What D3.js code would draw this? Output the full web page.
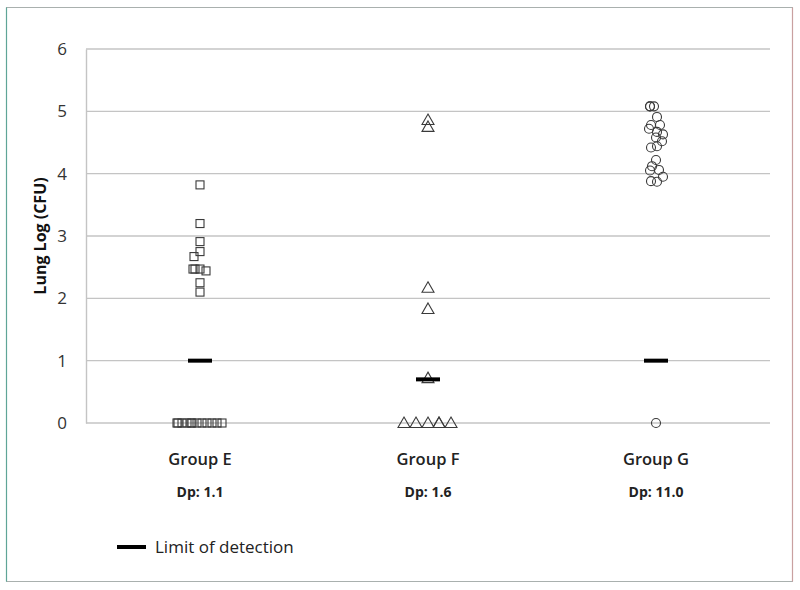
<!DOCTYPE html>
<html>
<head>
<meta charset="utf-8">
<script src="https://cdn.jsdelivr.net/npm/d3@7"></script>
<style>
  html, body { margin: 0; padding: 0; background: #fff; }
  svg { display: block; font-family: "Open Sans", "Liberation Sans", sans-serif; }
</style>
</head>
<body>
<div id="chart"></div>
<script>
// ---- data ----
const categories = ["Group E", "Group F", "Group G"];
const dpLabels = ["Dp: 1.1", "Dp: 1.6", "Dp: 11.0"];
const limitOfDetection = [1.0, 0.7, 1.0];
const yTicks = [0, 1, 2, 3, 4, 5, 6];

// lung log CFU per animal, with small horizontal jitter (in jitter units)
const valuesE = [3.82, 3.20, 2.91, 2.75, 2.67, 2.47, 2.47, 2.47, 2.44, 2.25, 2.10,
                 0, 0, 0, 0, 0, 0, 0, 0, 0, 0, 0, 0];
const jitterE = [0, 0, 0, 0, -6, -7, -5, 0, 6, 0, 0,
                 -23, -22, -18, -13, -9, -8, -3, 2, 7, 12, 17, 22];
const valuesF = [4.86, 4.75, 2.17, 1.83, 0.72, 0, 0, 0, 0, 0, 0];
const jitterF = [0, 0, 0, 0, 0, -24, -12, 0, 11, 11, 23];
const valuesG = [5.08, 5.08, 5.08, 4.91, 4.78, 4.78, 4.72, 4.67, 4.63, 4.58, 4.52,
                 4.42, 4.44, 4.22, 4.12, 4.05, 4.06, 3.95, 3.88, 3.87, 0];
const jitterG = [-6, -6, -2, 1, -5, 4, -7, 1, 7, 0, 6,
                 -5, 1, 0, -4, -6, 3, 7, -5, 1, 0];

// ---- layout ----
const W = 800, H = 590;
const margin = { left: 86, right: 30, top: 49, bottom: 167 };
const svg = d3.select("#chart").append("svg").attr("width", W).attr("height", H);

// frame
svg.append("rect").attr("x", 6.5).attr("y", 7.5).attr("width", 786).attr("height", 574)
  .attr("fill", "#fff").attr("stroke", "#a9b0ae").attr("stroke-width", 1);
svg.append("line").attr("x1", 6.5).attr("x2", 6.5).attr("y1", 7.5).attr("y2", 581.5)
  .attr("stroke", "#5fa597").attr("stroke-width", 1.2);
svg.append("line").attr("x1", 792.5).attr("x2", 792.5).attr("y1", 7.5).attr("y2", 581.5)
  .attr("stroke", "#c9a0a0").attr("stroke-width", 1.2);

const x = d3.scaleBand().domain(categories).range([margin.left, W - margin.right]);
const y = d3.scaleLinear().domain([0, 6]).range([H - margin.bottom, margin.top]);
const jitterStep = 1;

// gridlines
const g = svg.append("g");
g.selectAll("line.grid").data(yTicks).join("line").attr("class", "grid")
  .attr("x1", margin.left).attr("x2", W - margin.right)
  .attr("y1", d => y(d)).attr("y2", d => y(d))
  .attr("stroke", "#c4c4c4").attr("stroke-width", 1.4);

// y axis
const yAxis = d3.axisLeft(y).tickValues(yTicks).tickSize(0).tickPadding(19).tickFormat(d3.format("d"));
const ya = svg.append("g").attr("transform", `translate(${margin.left},0)`).call(yAxis);
ya.select(".domain").attr("stroke", "#c4c4c4").attr("stroke-width", 1.4);
ya.selectAll("text").attr("font-size", 17).attr("fill", "#333")
  .attr("font-family", "'Open Sans', sans-serif");

svg.append("text")
  .attr("transform", `translate(46,${(y(0) + y(6)) / 2}) rotate(-90)`)
  .attr("text-anchor", "middle").attr("font-size", 16).attr("font-weight", 700)
  .attr("fill", "#111").text("Lung Log (CFU)");

// x axis labels
const xAxis = d3.axisBottom(x).tickSize(0).tickPadding(30);
const xa = svg.append("g").attr("transform", `translate(0,${y(0)})`).call(xAxis);
xa.select(".domain").remove();
xa.selectAll("text").attr("font-size", 16.5).attr("font-weight", 600).attr("fill", "#222")
  .attr("font-family", "'Open Sans', sans-serif");

svg.append("g").selectAll("text").data(categories).join("text")
  .attr("x", d => x(d) + x.bandwidth() / 2).attr("y", 497)
  .attr("text-anchor", "middle").attr("font-size", 14).attr("font-weight", 700)
  .attr("fill", "#222").text((d, i) => dpLabels[i]);

// markers
const stroke = "#3a3a3a";
function cx(cat, j) { return x(cat) + x.bandwidth() / 2 + j * jitterStep; }

const plot = svg.append("g");
// squares (Group E)
plot.selectAll("rect.e").data(valuesE.map((v, i) => ({ v, j: jitterE[i] }))).join("rect")
  .attr("class", "e")
  .attr("x", d => cx("Group E", d.j) - 4).attr("y", d => y(d.v) - 4)
  .attr("width", 8).attr("height", 8)
  .attr("fill", "none").attr("stroke", stroke).attr("stroke-width", 1.1);

// triangles (Group F)
const tri = "M0,-5.5L6,5L-6,5Z";
plot.selectAll("path.f").data(valuesF.map((v, i) => ({ v, j: jitterF[i] }))).join("path")
  .attr("class", "f")
  .attr("transform", d => `translate(${cx("Group F", d.j)},${y(d.v) - 0.5})`)
  .attr("d", tri)
  .attr("fill", "none").attr("stroke", stroke).attr("stroke-width", 1.1);

// circles (Group G)
plot.selectAll("circle.g").data(valuesG.map((v, i) => ({ v, j: jitterG[i] }))).join("circle")
  .attr("class", "g")
  .attr("cx", d => cx("Group G", d.j)).attr("cy", d => y(d.v))
  .attr("r", 4.5)
  .attr("fill", "none").attr("stroke", stroke).attr("stroke-width", 1.1);

// limit of detection bars
plot.selectAll("line.lod").data(categories).join("line").attr("class", "lod")
  .attr("x1", d => x(d) + x.bandwidth() / 2 - 12).attr("x2", d => x(d) + x.bandwidth() / 2 + 12)
  .attr("y1", (d, i) => y(limitOfDetection[i])).attr("y2", (d, i) => y(limitOfDetection[i]))
  .attr("stroke", "#000").attr("stroke-width", 4);

// legend
const lg = svg.append("g").attr("transform", "translate(117,547)");
lg.append("line").attr("x1", 0).attr("x2", 29).attr("y1", 0).attr("y2", 0)
  .attr("stroke", "#000").attr("stroke-width", 4);
lg.append("text").attr("x", 38).attr("y", 6).attr("font-size", 17)
  .attr("fill", "#222").text("Limit of detection");
</script>
</body>
</html>
